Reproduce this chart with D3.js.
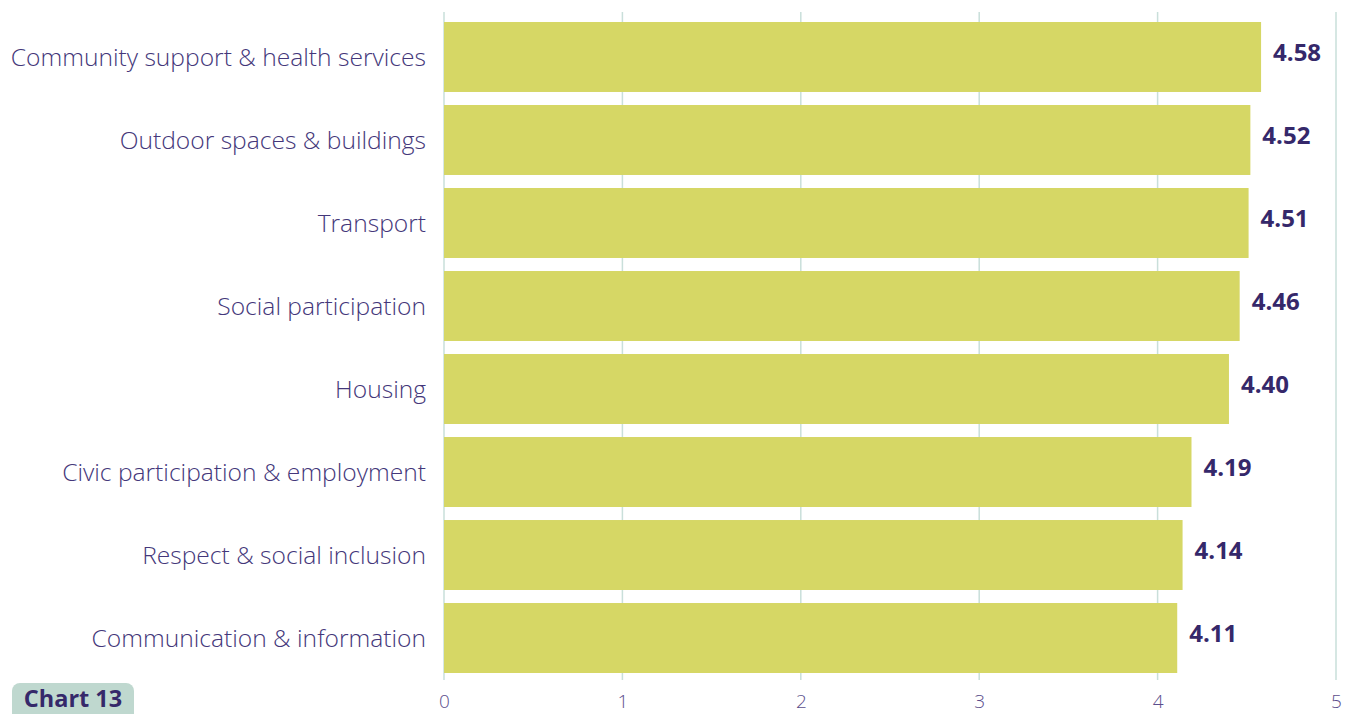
<!DOCTYPE html>
<html>
<head>
<meta charset="utf-8">
<script src="https://cdn.jsdelivr.net/npm/d3@7"></script>
<style>
  body { margin: 0; background: #ffffff; }
  svg { display: block; font-family: "Open Sans", Lato, sans-serif; }
</style>
</head>
<body>
<div id="chart"></div>
<script>
// data
var categories = [
  "Community support & health services",
  "Outdoor spaces & buildings",
  "Transport",
  "Social participation",
  "Housing",
  "Civic participation & employment",
  "Respect & social inclusion",
  "Communication & information"
];
var scores = [4.58, 4.52, 4.51, 4.46, 4.40, 4.19, 4.14, 4.11];
var tickValues = [0, 1, 2, 3, 4, 5];
var chartLabel = "Chart 13";

var svgWidth = 1348;
var svgHeight = 714;

var svg = d3.select("#chart")
  .append("svg")
  .attr("width", svgWidth)
  .attr("height", svgHeight);

// scales
var xScale = d3.scaleLinear()
  .domain([0, 5])
  .range([444, 1336]);

var yScale = d3.scaleBand()
  .domain(categories)
  .range([22, 673])
  .paddingInner(0.157)
  .paddingOuter(0);

// gridlines
svg.append("g")
  .selectAll("line")
  .data(tickValues)
  .enter()
  .append("line")
  .attr("x1", d => xScale(d))
  .attr("x2", d => xScale(d))
  .attr("y1", 12)
  .attr("y2", 680)
  .attr("stroke", "#c9dfda")
  .attr("stroke-width", 1.5);

// bottom axis (labels only)
var bottomAxis = d3.axisBottom(xScale)
  .tickValues(tickValues)
  .tickSize(0)
  .tickPadding(0)
  .tickFormat(d3.format("d"));

var xAxisGroup = svg.append("g")
  .attr("transform", "translate(0, 708)")
  .call(bottomAxis);
xAxisGroup.select(".domain").remove();
xAxisGroup.selectAll("text")
  .attr("dy", "0")
  .style("font-family", "'Open Sans', sans-serif")
  .style("font-size", "19px")
  .style("font-weight", 300)
  .style("fill", "#5b4e8c");

// bars
svg.append("g")
  .selectAll("rect")
  .data(categories)
  .enter()
  .append("rect")
  .attr("x", xScale(0))
  .attr("y", d => yScale(d))
  .attr("width", (d, i) => xScale(scores[i]) - xScale(0))
  .attr("height", yScale.bandwidth())
  .attr("fill", "#d6d765");

// category labels
svg.append("g")
  .selectAll("text")
  .data(categories)
  .enter()
  .append("text")
  .attr("x", 426)
  .attr("y", d => yScale(d) + yScale.bandwidth() / 2)
  .attr("dy", "0.35em")
  .attr("text-anchor", "end")
  .style("font-size", "24.6px")
  .style("font-weight", 300)
  .style("fill", "#44377a")
  .text(d => d);

// value labels
svg.append("g")
  .selectAll("text")
  .data(categories)
  .enter()
  .append("text")
  .attr("x", (d, i) => xScale(scores[i]) + 12)
  .attr("y", d => yScale(d) + yScale.bandwidth() / 2 - 4)
  .attr("dy", "0.35em")
  .style("font-size", "24px")
  .style("font-weight", 700)
  .style("fill", "#35286a")
  .text((d, i) => scores[i].toFixed(2));

// chart badge
var badge = svg.append("g");
badge.append("rect")
  .attr("x", 12)
  .attr("y", 683)
  .attr("width", 122)
  .attr("height", 40)
  .attr("rx", 8)
  .attr("fill", "#bfd8cf");
badge.append("text")
  .attr("x", 73)
  .attr("y", 707)
  .attr("text-anchor", "middle")
  .style("font-size", "23.5px")
  .style("font-weight", 700)
  .style("fill", "#35286a")
  .text(chartLabel);
</script>
</body>
</html>
